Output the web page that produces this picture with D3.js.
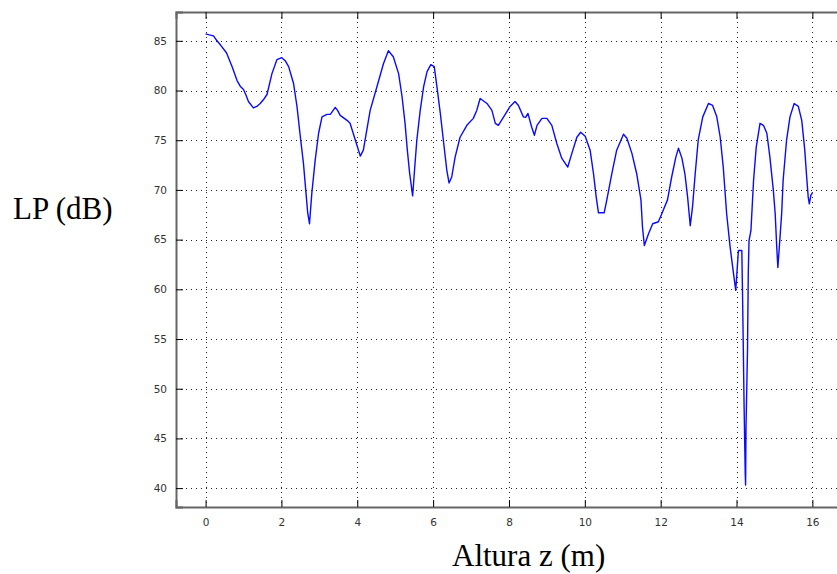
<!DOCTYPE html>
<html>
<head>
<meta charset="utf-8">
<script src="https://cdn.jsdelivr.net/npm/d3@7"></script>
<style>
  body { margin: 0; background: #fff; }
  svg { display: block; }
  .tick text { font-family: "DejaVu Sans", sans-serif; font-size: 10.5px; fill: #333; }
  .label { font-family: "Liberation Serif", "Times New Roman", serif; font-size: 31px; fill: #000; }
</style>
</head>
<body>
<div id="chart"></div>
<script>
const z = [0.00, 0.10, 0.21, 0.30, 0.39, 0.55, 0.70, 0.83, 0.92, 1.00, 1.07, 1.13, 1.26, 1.35, 1.44, 1.55, 1.62, 1.75, 1.88, 2.01,
  2.10, 2.19, 2.32, 2.41, 2.50, 2.58, 2.65, 2.69, 2.74, 2.80, 2.89, 2.98, 3.07, 3.20, 3.29, 3.42, 3.48, 3.55, 3.73, 3.81,
  3.95, 4.08, 4.16, 4.34, 4.52, 4.69, 4.82, 4.95, 5.09, 5.18, 5.26, 5.32, 5.38, 5.46, 5.51, 5.57, 5.66, 5.75, 5.84, 5.94,
  6.03, 6.10, 6.19, 6.27, 6.36, 6.42, 6.49, 6.58, 6.71, 6.89, 7.06, 7.15, 7.24, 7.42, 7.55, 7.64, 7.72, 7.86, 8.03, 8.16,
  8.25, 8.38, 8.44, 8.50, 8.60, 8.67, 8.74, 8.87, 9.00, 9.13, 9.26, 9.39, 9.55, 9.66, 9.79, 9.89, 10.01, 10.14, 10.23, 10.30,
  10.36, 10.51, 10.58, 10.71, 10.84, 11.02, 11.11, 11.24, 11.37, 11.48, 11.52, 11.57, 11.68, 11.79, 11.94, 12.03, 12.18, 12.29, 12.40, 12.47,
  12.56, 12.64, 12.71, 12.78, 12.84, 12.91, 12.99, 13.11, 13.26, 13.37, 13.48, 13.57, 13.65, 13.74, 13.83, 13.92, 13.98, 14.01, 14.05, 14.14,
  14.16, 14.18, 14.20, 14.23, 14.24, 14.25, 14.29, 14.31, 14.33, 14.38, 14.45, 14.52, 14.62, 14.71, 14.80, 14.88, 14.97, 15.02, 15.06, 15.09,
  15.13, 15.19, 15.23, 15.32, 15.41, 15.52, 15.63, 15.72, 15.80, 15.85, 15.89, 15.92, 15.96, 16.00];
const lp = [85.7, 85.6, 85.5, 85.0, 84.6, 83.8, 82.4, 81.0, 80.4, 80.1, 79.5, 78.9, 78.25, 78.4, 78.7, 79.2, 79.6, 81.7, 83.1, 83.3,
  83.0, 82.4, 80.7, 78.4, 75.3, 72.7, 69.6, 67.8, 66.6, 69.6, 73.0, 75.7, 77.35, 77.6, 77.6, 78.3, 78.0, 77.5, 77.0, 76.7,
  75.0, 73.4, 74.0, 78.0, 80.4, 82.7, 84.0, 83.4, 81.7, 79.4, 76.7, 74.0, 71.7, 69.4, 72.0, 75.0, 78.0, 80.4, 81.9, 82.6,
  82.4, 80.4, 77.7, 75.0, 72.0, 70.7, 71.3, 73.3, 75.3, 76.5, 77.2, 78.0, 79.2, 78.7, 78.0, 76.7, 76.5, 77.35, 78.4, 78.9,
  78.5, 77.35, 77.3, 77.7, 76.3, 75.5, 76.5, 77.2, 77.2, 76.5, 74.7, 73.2, 72.3, 73.7, 75.3, 75.8, 75.4, 74.0, 71.6, 69.3,
  67.7, 67.7, 69.0, 71.6, 74.0, 75.6, 75.2, 73.7, 71.6, 69.0, 66.3, 64.4, 65.6, 66.6, 66.8, 67.6, 69.0, 71.3, 73.3, 74.2,
  73.2, 71.6, 69.3, 66.4, 68.3, 71.6, 75.0, 77.35, 78.7, 78.5, 77.35, 75.3, 72.3, 67.6, 64.3, 61.6, 59.9, 61.6, 63.9, 63.9,
  59.2, 53.9, 48.2, 41.5, 40.3, 46.1, 53.9, 61.6, 64.9, 65.9, 71.0, 74.3, 76.7, 76.5, 75.7, 73.3, 70.0, 67.6, 64.3, 62.2,
  64.3, 67.6, 71.0, 75.0, 77.35, 78.7, 78.4, 77.0, 74.0, 71.3, 69.3, 68.6, 69.45, 69.7];
const xTicks = [0, 2, 4, 6, 8, 10, 12, 14, 16];
const yTicks = [40, 45, 50, 55, 60, 65, 70, 75, 80, 85];

const W = 837, H = 574;
const plotLeft = 176, plotTop = 12, plotBottom = 507, plotRight = 860;

const svg = d3.select("#chart").append("svg").attr("width", W).attr("height", H);

const x = d3.scaleLinear().domain([-0.78, (plotRight - 205.3) / 37.94]).range([plotLeft, plotRight]);
const y = d3.scaleLinear().domain([38.1, 87.9]).range([plotBottom, plotTop]);

// grid
const grid = svg.append("g").attr("stroke", "#222").attr("stroke-width", 1).attr("stroke-dasharray", "1,4");
grid.selectAll("line.gx").data(xTicks).enter().append("line")
  .attr("x1", (d) => Math.round(x(d)) + 0.5).attr("x2", (d) => Math.round(x(d)) + 0.5)
  .attr("y1", plotTop).attr("y2", plotBottom);
grid.selectAll("line.gy").data(yTicks).enter().append("line")
  .attr("x1", plotLeft).attr("x2", plotRight)
  .attr("y1", (d) => Math.round(y(d)) + 0.5).attr("y2", (d) => Math.round(y(d)) + 0.5);

// data line
const line = d3.line().x((d) => x(d[0])).y((d) => y(d[1]));
svg.append("path")
  .datum(z.map((d, i) => [d, lp[i]]))
  .attr("fill", "none")
  .attr("stroke", "#0a0aff")
  .attr("stroke-width", 1.4)
  .attr("stroke-linejoin", "round")
  .attr("d", line);

// axes, ticks pointing inward
const xAxis = svg.append("g").attr("transform", `translate(0,${plotBottom})`)
  .call(d3.axisBottom(x).tickValues(xTicks).tickSize(-7).tickPadding(12).tickFormat(d3.format("d")));
const xTop = svg.append("g").attr("transform", `translate(0,${plotTop})`)
  .call(d3.axisTop(x).tickValues(xTicks).tickSize(-7).tickFormat(""));
const yAxis = svg.append("g").attr("transform", `translate(${plotLeft},0)`)
  .call(d3.axisLeft(y).tickValues(yTicks).tickSize(-7).tickPadding(9).tickFormat(d3.format("d")));
[xAxis, xTop, yAxis].forEach((a) => {
  a.select(".domain").attr("stroke", "#666").attr("stroke-width", 2);
  a.selectAll(".tick line").attr("stroke", "#000");
});

svg.append("text").attr("class", "label").attr("x", 13).attr("y", 219).text("LP (dB)");
svg.append("text").attr("class", "label").attr("x", 452).attr("y", 566).text("Altura z (m)");
</script>
</body>
</html>
